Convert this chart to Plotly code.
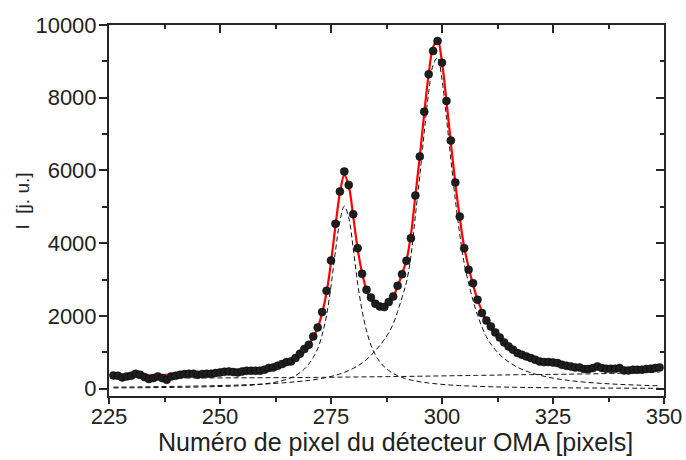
import plotly.graph_objects as go

# measured intensities, one per detector pixel
pixels = list(range(226, 350))
intensity = [
    366, 357, 311, 339, 357, 412, 385, 321, 266, 293,
    339, 293, 247, 339, 357, 385, 403, 412, 412, 385,
    403, 412, 412, 430, 449, 467, 476, 458, 449, 476,
    495, 495, 495, 495, 522, 568, 586, 632, 678, 733,
    751, 843, 962, 1090, 1209, 1438, 1685, 2106, 2692, 3526,
    4533, 5421, 5971, 5604, 4799, 3865, 3159, 2720, 2509, 2335,
    2262, 2244, 2381, 2536, 2830, 3150, 3516, 4139, 5311, 6383,
    7618, 8645, 9286, 9560, 8965, 7912, 6822, 5668, 4734, 3864,
    3269, 2903, 2445, 2079, 1877, 1712, 1548, 1410, 1273, 1163,
    1071, 980, 934, 888, 843, 797, 751, 733, 733, 723,
    705, 659, 632, 614, 586, 586, 540, 540, 568, 614,
    568, 549, 549, 549, 568, 504, 504, 522, 522, 522,
    540, 549, 568, 586,
]

# fitted curves, read at these pixel positions
fit_x = [226, 232, 238, 244, 250, 255, 259, 262, 265, 267, 269, 270, 271, 272,
         273, 274, 275, 276, 277, 278, 279, 280, 281, 282, 283, 284, 285, 286,
         287, 288, 289, 290, 291, 292, 293, 294, 295, 296, 297, 298, 299, 300,
         301, 302, 303, 304, 305, 306, 307, 308, 310, 312, 314, 317, 320, 324,
         328, 333, 338, 343, 349]

peak1 = [22, 27, 34, 45, 62, 84, 118, 168, 258, 360, 540, 680, 860, 1100,
         1480, 2020, 2820, 3780, 4600, 5020, 4700, 3860, 2900, 2150, 1590, 1200, 930, 740,
         600, 500, 420, 360, 310, 270, 240, 215, 192, 173, 157, 143, 131, 120,
         110, 101, 94, 87, 81, 75, 70, 66, 58, 51, 46, 39, 33, 28,
         24, 20, 17, 14, 12]

peak2 = [44, 51, 60, 72, 87, 105, 125, 144, 169, 190, 213, 228, 245, 264,
         286, 310, 338, 370, 407, 450, 500, 558, 625, 705, 800, 915, 1050, 1190,
         1350, 1540, 1780, 2120, 2510, 2930, 3650, 4750, 5850, 7050, 8150, 8900, 9100, 8500,
         7450, 6300, 5200, 4250, 3450, 2900, 2420, 2020, 1430, 1070, 830, 590, 440, 315,
         235, 172, 132, 104, 80]

broad = [290, 292, 294, 296, 298, 300, 302, 304, 306, 307, 309, 310, 311, 312,
         313, 314, 316, 317, 318, 320, 321, 322, 324, 325, 326, 327, 329, 330,
         331, 332, 334, 335, 337, 338, 340, 342, 344, 345, 347, 349, 351, 353,
         354, 356, 358, 360, 361, 363, 365, 367, 370, 374, 379, 385, 388, 393,
         400, 408, 420, 435, 455]

fit_total = [348, 362, 380, 404, 440, 483, 540, 611, 728, 855, 1062, 1218, 1416, 1676,
             2079, 2644, 3474, 4467, 5375, 5870, 5571, 4740, 3849, 3180, 2716, 2442, 2309, 2260,
             2281, 2372, 2534, 2815, 3157, 3538, 4230, 5307, 6386, 7568, 8654, 9392, 9582, 8973,
             7914, 6757, 5652, 4697, 3892, 3338, 2855, 2453, 1858, 1495, 1255, 1014, 861, 736,
             659, 600, 569, 553, 547]

x_ticks = [225, 250, 275, 300, 325, 350]
y_ticks = [0, 2000, 4000, 6000, 8000, 10000]
y_tick_text = ['0', '2000', '4000', '6000', '8000', '10000']

axis_color = '#262626'
font = 'Liberation Sans, Arial, sans-serif'

fig = go.Figure()

# dashed components
for comp in [broad, peak1, peak2]:
    fig.add_trace(go.Scatter(x=fit_x, y=comp, mode='lines', line_shape='spline',
                             line=dict(color='#111111', width=1, dash='5px,3px'),
                             showlegend=False, hoverinfo='skip'))

# total fit
fig.add_trace(go.Scatter(x=fit_x, y=fit_total, mode='lines', line_shape='spline',
                         line=dict(color='#ff0000', width=2.2), showlegend=False))

# data points
fig.add_trace(go.Scatter(x=pixels, y=intensity, mode='markers',
                         marker=dict(size=8, color='#1e1e1e', line=dict(color='#000000', width=0.5)),
                         showlegend=False))

fig.update_layout(
    width=686, height=460,
    margin=dict(l=109, r=22, t=25, b=64),
    plot_bgcolor='white', paper_bgcolor='white',
    font=dict(family=font, color='#222222', size=22),
    xaxis=dict(range=[225, 350], tickvals=x_ticks, ticks='outside', ticklen=6, tickwidth=2,
               tickcolor=axis_color, showline=True, linewidth=2, linecolor=axis_color,
               showgrid=False, zeroline=False, tickfont=dict(size=22), automargin=False,
               ticklabelstandoff=-6,
               minor=dict(dtick=12.5, tick0=225, ticks='outside', ticklen=4, tickwidth=2, tickcolor=axis_color)),
    yaxis=dict(range=[-200, 10000], tickvals=y_ticks, ticktext=y_tick_text, ticks='outside', ticklen=8,
               tickwidth=2, tickcolor=axis_color, showline=True, linewidth=2, linecolor=axis_color,
               showgrid=False, zeroline=False, tickfont=dict(size=22), automargin=False,
               ticklabelstandoff=-2,
               minor=dict(dtick=1000, tick0=0, ticks='outside', ticklen=5, tickwidth=2, tickcolor=axis_color)),
    xaxis2=dict(range=[225, 350], overlaying='x', side='top', anchor='y', tickvals=x_ticks,
                ticks='inside', ticklen=8, tickwidth=2, tickcolor=axis_color, showticklabels=False,
                showline=True, linewidth=2, linecolor=axis_color, showgrid=False, zeroline=False,
                automargin=False,
                minor=dict(dtick=12.5, tick0=225, ticks='inside', ticklen=4, tickwidth=2, tickcolor=axis_color)),
    yaxis2=dict(range=[-200, 10000], overlaying='y', side='right', anchor='x', tickvals=y_ticks,
                ticks='inside', ticklen=8, tickwidth=2, tickcolor=axis_color, showticklabels=False,
                showline=True, linewidth=2, linecolor=axis_color, showgrid=False, zeroline=False,
                automargin=False,
                minor=dict(dtick=1000, tick0=0, ticks='inside', ticklen=4, tickwidth=2, tickcolor=axis_color)),
    annotations=[
        dict(text='Numéro de pixel du détecteur OMA [pixels]', xref='paper', yref='paper',
             x=0.5, y=0, xanchor='center', yanchor='middle', xshift=9, yshift=-46,
             showarrow=False, font=dict(size=25)),
        dict(text='I\u00a0\u00a0[j. u.]', xref='paper', yref='paper', textangle=-90,
             x=0, y=0.5, xanchor='center', yanchor='middle', xshift=-87, yshift=9,
             showarrow=False, font=dict(size=19)),
    ],
)

# empty trace so the mirror axes get drawn
fig.add_trace(go.Scatter(x=[], y=[], xaxis='x2', yaxis='y2', showlegend=False))

# drop the default page margin so the figure fills the window exactly
fig.write_html("out.html", config={'displayModeBar': False},
               post_script="document.body.style.margin='0';document.body.style.overflow='hidden';")
